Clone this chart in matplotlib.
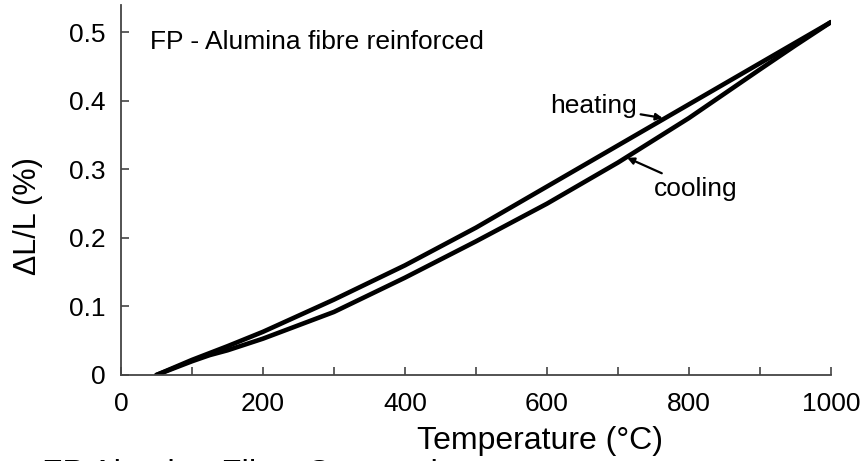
import matplotlib
matplotlib.use("Agg")
import matplotlib.pyplot as plt

plt.rcParams['font.family'] = ['Liberation Sans', 'DejaVu Sans']

# dilatometer trace, temperature in deg C, strain in %
heat_T = [50, 75, 100, 125, 150, 200, 300, 400, 500, 600, 700, 800, 900, 950, 1000]
heat_dL = [0, 0.011, 0.022, 0.032, 0.042, 0.063, 0.110, 0.160, 0.215, 0.275, 0.335, 0.395, 0.455, 0.485, 0.515]
cool_T = [1000, 950, 900, 800, 700, 600, 500, 400, 300, 200, 150, 125, 100, 75, 50]
cool_dL = [0.515, 0.481, 0.446, 0.375, 0.310, 0.250, 0.195, 0.142, 0.092, 0.053, 0.036, 0.029, 0.020, 0.010, 0]

x_ticks = [0, 200, 400, 600, 800, 1000]
y_ticks = [0, 0.1, 0.2, 0.3, 0.4, 0.5]
y_ticklabels = ['0', '0.1', '0.2', '0.3', '0.4', '0.5']

fig = plt.figure(figsize=(8.61, 4.61), dpi=100)
ax = fig.add_axes([0.1405, 0.1866, 0.8246, 0.8026])

ax.plot(heat_T, heat_dL, color='black', lw=3.3, solid_capstyle='round', solid_joinstyle='round')
ax.plot(cool_T, cool_dL, color='black', lw=3.3, solid_capstyle='round', solid_joinstyle='round')

ax.set_xlim(0, 1000)
ax.set_ylim(0, 0.54)
ax.set_xticks(x_ticks)
ax.set_xticks(range(100, 1000, 200), minor=True)
ax.set_yticks(y_ticks)
ax.set_yticklabels(y_ticklabels)

for s in ['top', 'right']:
    ax.spines[s].set_visible(False)
for s in ['left', 'bottom']:
    ax.spines[s].set_color('#444444')
    ax.spines[s].set_linewidth(1.3)

ax.tick_params(which='both', direction='in', length=6, width=1.2, color='#444444', labelsize=19)
ax.tick_params(axis='y', pad=11)
ax.tick_params(axis='x', pad=12)

ax.set_xlabel('Temperature (°C)', fontsize=23)
ax.xaxis.label.set_verticalalignment('baseline')
ax.xaxis.set_label_coords(0.59, -0.20)
ax.set_ylabel('ΔL/L (%)', fontsize=22)
ax.yaxis.set_label_coords(-0.11, 0.43)

ax.text(41, 0.486, 'FP - Alumina fibre reinforced', fontsize=19, ha='left', va='center')

arrow = dict(arrowstyle='-|>', color='black', lw=1.6, mutation_scale=10, shrinkA=1, shrinkB=0)
ax.annotate('heating', xy=(763, 0.375), xytext=(665, 0.392), fontsize=19,
            ha='center', va='center', arrowprops=arrow)
ax.annotate('cooling', xy=(713, 0.317), xytext=(810, 0.272), fontsize=19,
            ha='center', va='center', arrowprops=arrow)

# caption sitting below the frame
fig.text(42 / 861, -0.047, 'FP Alumina Fibre Composite', fontsize=24, ha='left', va='baseline')

fig.savefig('out.png', dpi=100)
